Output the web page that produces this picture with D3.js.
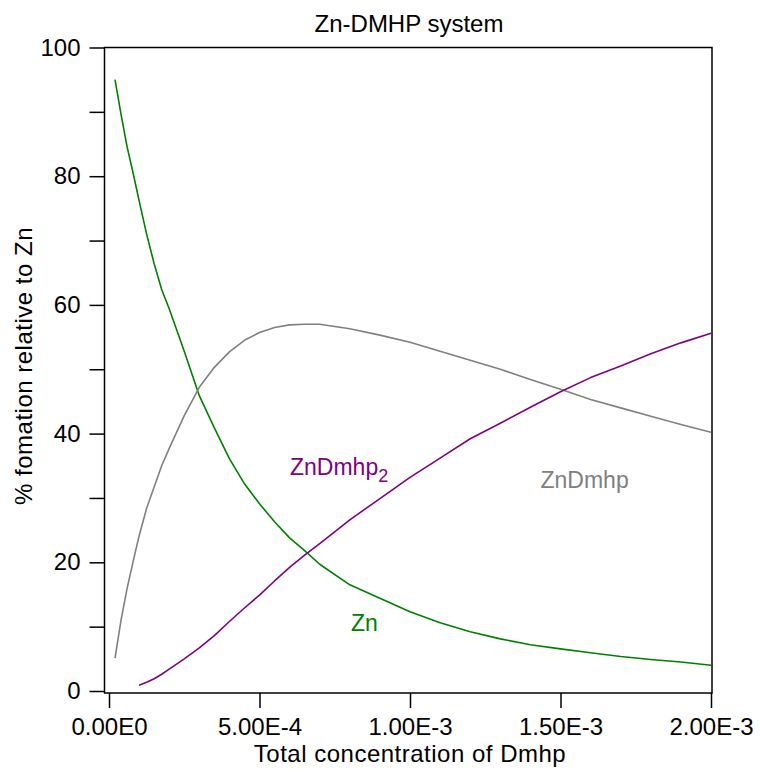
<!DOCTYPE html>
<html>
<head>
<meta charset="utf-8">
<script src="https://cdn.jsdelivr.net/npm/d3@7"></script>
<style>
  html, body { margin: 0; padding: 0; background: #fff; }
  svg { display: block; }
  text { font-family: "Liberation Sans", Arial, sans-serif; }
</style>
</head>
<body>
<svg id="chart" width="760" height="772"></svg>
<script>
// ---- data ----
const concentration = [2e-5, 4e-5, 6e-5, 8e-5, 1e-4, 1.25e-4, 1.5e-4, 1.75e-4, 2e-4, 2.5e-4, 3e-4, 3.5e-4,
  4e-4, 4.5e-4, 5e-4, 5.5e-4, 6e-4, 6.5e-4, 7e-4, 8e-4, 9e-4, 1e-3,
  1.1e-3, 1.2e-3, 1.3e-3, 1.4e-3, 1.5e-3, 1.6e-3, 1.7e-3, 1.8e-3, 1.9e-3, 2e-3];
const znValues = [95.0, 89.6, 84.6, 80.5, 76.2, 71.0, 66.4, 62.4, 59.4, 52.8, 45.9, 40.9,
  36.1, 32.2, 29.1, 26.3, 23.8, 21.8, 19.7, 16.5, 14.4, 12.3,
  10.6, 9.2, 8.1, 7.2, 6.55, 5.95, 5.35, 4.9, 4.5, 4.0];
const znDmhpValues = [5.1, 11.0, 15.9, 20.1, 24.1, 28.4, 31.7, 35.0, 37.7, 42.8, 47.2, 50.3,
  52.7, 54.5, 55.7, 56.5, 56.9, 57.0, 57.0, 56.3, 55.3, 54.2,
  52.8, 51.4, 50.0, 48.4, 46.9, 45.3, 44.0, 42.7, 41.4, 40.2];
const znDmhp2Values = [null, null, null, null, 0.9, 1.35, 1.9, 2.6, 3.4, 5.0, 6.7, 8.6,
  10.8, 12.9, 14.9, 17.1, 19.2, 21.1, 22.9, 26.6, 29.9, 33.2,
  36.2, 39.2, 41.6, 44.1, 46.5, 48.7, 50.5, 52.4, 54.1, 55.6];

const xTickValues = [0, 5e-4, 1e-3, 1.5e-3, 2e-3];
const xTickLabels = ["0.00E0", "5.00E-4", "1.00E-3", "1.50E-3", "2.00E-3"];
const yTickValues = [0, 10, 20, 30, 40, 50, 60, 70, 80, 90, 100];
const yTickLabels = ["0", "", "20", "", "40", "", "60", "", "80", "", "100"];

const series = [
  { name: "Zn", values: znValues, color: "#008000" },
  { name: "ZnDmhp", values: znDmhpValues, color: "#808080" },
  { name: "ZnDmhp2", values: znDmhp2Values, color: "#800080" }
];

// ---- layout ----
const svg = d3.select("#chart");
const box = { left: 104.5, right: 712, top: 47.5, bottom: 693 };
const x = d3.scaleLinear().domain([0, 2e-3]).range([109, 711]);
const y = d3.scaleLinear().domain([0, 100]).range([691, 47.5]);

// curves
const line = d3.line()
  .defined(d => d[1] != null)
  .x(d => x(d[0]))
  .y(d => y(d[1]));

series.forEach(s => {
  svg.append("path")
    .datum(concentration.map((c, i) => [c, s.values[i]]))
    .attr("fill", "none")
    .attr("stroke", s.color)
    .attr("stroke-width", 1.6)
    .attr("stroke-linejoin", "round")
    .attr("d", line);
});

// frame
svg.append("rect")
  .attr("x", box.left).attr("y", box.top)
  .attr("width", box.right - box.left).attr("height", box.bottom - box.top)
  .attr("fill", "none").attr("stroke", "#000").attr("stroke-width", 1.5);

// y axis
const yAxis = d3.axisLeft(y)
  .tickValues(yTickValues)
  .tickSize(15)
  .tickPadding(9)
  .tickFormat((d, i) => yTickLabels[i]);
const gy = svg.append("g").attr("transform", `translate(${box.left},0)`).call(yAxis);
gy.select(".domain").remove();
gy.selectAll(".tick line").attr("stroke", "#000").attr("stroke-width", 1.5);
gy.selectAll(".tick text").attr("font-size", 24).attr("fill", "#000")
  .attr("font-family", "'Liberation Sans', Arial, sans-serif");

// x axis
const xAxis = d3.axisBottom(x)
  .tickValues(xTickValues)
  .tickSize(15)
  .tickPadding(10)
  .tickFormat((d, i) => xTickLabels[i]);
const gx = svg.append("g").attr("transform", `translate(0,${box.bottom})`).call(xAxis);
gx.select(".domain").remove();
gx.selectAll(".tick line").attr("stroke", "#000").attr("stroke-width", 1.5);
gx.selectAll(".tick text").attr("font-size", 24).attr("fill", "#000")
  .attr("font-family", "'Liberation Sans', Arial, sans-serif");

// title
svg.append("text")
  .attr("x", 409).attr("y", 31.5)
  .attr("text-anchor", "middle")
  .attr("font-size", 24)
  .text("Zn-DMHP system");

// axis titles
svg.append("text")
  .attr("x", 410).attr("y", 762)
  .attr("text-anchor", "middle")
  .attr("font-size", 24)
  .attr("letter-spacing", 0.5)
  .text("Total concentration of Dmhp");

svg.append("text")
  .attr("transform", "translate(32,366) rotate(-90)")
  .attr("text-anchor", "middle")
  .attr("font-size", 24)
  .attr("letter-spacing", 0.5)
  .text("% fomation relative to Zn");

// series labels
svg.append("text")
  .attr("x", 351).attr("y", 630.5)
  .attr("font-size", 23).attr("fill", "#008000")
  .text("Zn");

svg.append("text")
  .attr("x", 540.5).attr("y", 488)
  .attr("font-size", 23).attr("fill", "#808080")
  .text("ZnDmhp");

const t2 = svg.append("text")
  .attr("x", 290).attr("y", 475)
  .attr("font-size", 23).attr("fill", "#800080");
t2.append("tspan").text("ZnDmhp");
t2.append("tspan").attr("font-size", 18).attr("dy", 7).text("2");
</script>
</body>
</html>
